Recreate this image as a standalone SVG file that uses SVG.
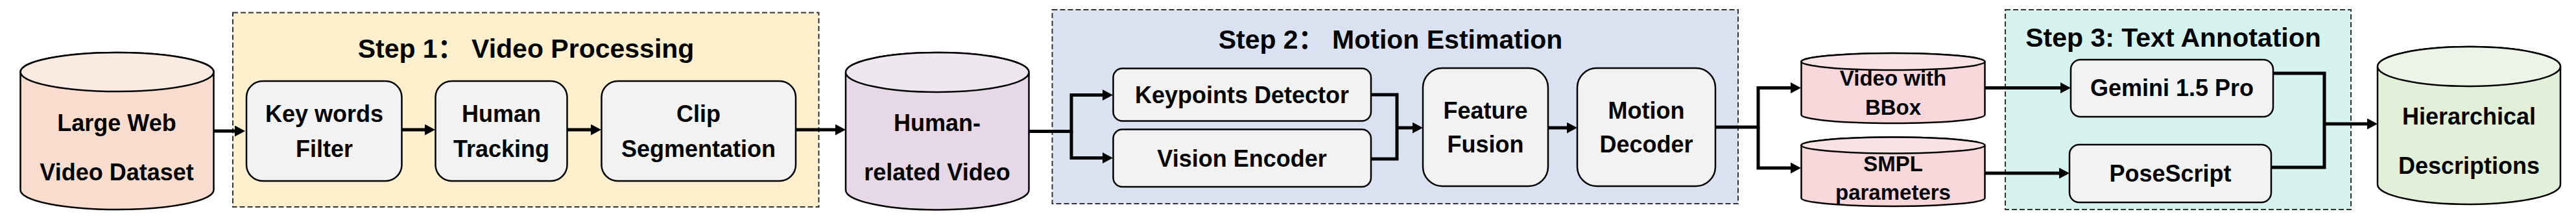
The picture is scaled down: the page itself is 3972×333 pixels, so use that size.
<svg xmlns="http://www.w3.org/2000/svg" width="3972" height="333" viewBox="0 0 3972 333">
<style>
text{font-family:"Liberation Sans",Arial,"Noto Sans CJK SC",sans-serif;font-weight:bold;fill:#000;text-anchor:middle}
.t{font-size:36px}
.ts{font-size:33px}
.title{font-size:41px}
.step{stroke:#333;stroke-width:2;stroke-dasharray:8 4}
.box{fill:#F2F2F2;stroke:#000;stroke-width:2.5}
.cyl{stroke:#000;stroke-width:2.5}
.conn{fill:none;stroke:#000;stroke-width:5;stroke-linejoin:miter}
.arr{marker-end:url(#ah)}
</style>
<defs>
<marker id="ah" markerUnits="userSpaceOnUse" viewBox="0 0 16 17" refX="2" refY="8.5" markerWidth="16" markerHeight="17" orient="auto">
<path d="M0,0 L16,8.5 L0,17 z" fill="#000"/>
</marker>
</defs>
<rect width="3972" height="333" fill="#fff"/>
<g id="step1">
<rect class="step" x="359" y="19.5" width="903.5" height="299.5" fill="#FEF0CD"/>
<text class="title" x="811" y="89">Step 1： Video Processing</text>
</g>
<g id="step2">
<rect class="step" x="1622.5" y="15" width="1057.5" height="299" fill="#DAE2F2"/>
<text class="title" x="2144" y="75">Step 2： Motion Estimation</text>
</g>
<g id="step3">
<rect class="step" x="3092" y="15" width="533" height="308" fill="#D6F2EF"/>
<text class="title" x="3351" y="72">Step 3: Text Annotation</text>
</g>
<g id="connectors">
<path class="conn arr" d="M329.5,202 H364"/>
<path class="conn arr" d="M619.5,200 H657"/>
<path class="conn arr" d="M874.5,200 H913"/>
<path class="conn arr" d="M1227,200 H1290"/>
<path class="conn arr" d="M1586.5,202.5 H1652 V146.5 H1702"/>
<path class="conn arr" d="M1652,202.5 V243.5 H1702"/>
<path class="conn" d="M2114,146 H2154 V245 H2114"/>
<path class="conn arr" d="M2154,197 H2180"/>
<path class="conn arr" d="M2387,197 H2418"/>
<path class="conn arr" d="M2645,196 H2711 V135.5 H2763"/>
<path class="conn arr" d="M2711,196 V259 H2763"/>
<path class="conn arr" d="M3060.5,135.5 H3179"/>
<path class="conn arr" d="M3060.5,267 H3177"/>
<path class="conn" d="M3505,113 H3584 V258 H3502"/>
<path class="conn arr" d="M3584,191 H3652"/>
</g>
<g id="large-web">
<path class="cyl" fill="#F8DDCE" d="M31.5,111 V293 A149,30 0 0 0 329.5,293 V111 A149,30 0 0 0 31.5,111 Z"/>
<ellipse class="cyl" fill="#FAEAE1" cx="180.5" cy="111" rx="149" ry="30"/>
<text class="t" x="180" y="202">Large Web</text>
<text class="t" x="180" y="278">Video Dataset</text>
</g>
<g id="keywords">
<rect class="box" x="380" y="125" width="239.5" height="154" rx="25"/>
<text class="t" x="500" y="188">Key words</text>
<text class="t" x="500" y="242">Filter</text>
</g>
<g id="tracking">
<rect class="box" x="671.5" y="125" width="203" height="154" rx="25"/>
<text class="t" x="773" y="188">Human</text>
<text class="t" x="773" y="242">Tracking</text>
</g>
<g id="clip">
<rect class="box" x="927.5" y="125" width="299.5" height="154" rx="25"/>
<text class="t" x="1077" y="188">Clip</text>
<text class="t" x="1077" y="242">Segmentation</text>
</g>
<g id="human-video">
<path class="cyl" fill="#E6D8E7" d="M1304,111.5 V293 A141.25,30.5 0 0 0 1586.5,293 V111.5 A141.25,30.5 0 0 0 1304,111.5 Z"/>
<ellipse class="cyl" fill="#EEE7EF" cx="1445.25" cy="111.5" rx="141.25" ry="30.5"/>
<text class="t" x="1445" y="202">Human-</text>
<text class="t" x="1445" y="278">related Video</text>
</g>
<g id="keypoints">
<rect class="box" x="1716.5" y="105.5" width="397.5" height="81" rx="14"/>
<text class="t" x="1915" y="159">Keypoints Detector</text>
</g>
<g id="vision">
<rect class="box" x="1716.5" y="199.5" width="397.5" height="88.5" rx="14"/>
<text class="t" x="1915" y="257">Vision Encoder</text>
</g>
<g id="fusion">
<rect class="box" x="2194" y="105" width="193" height="182" rx="30"/>
<text class="t" x="2290.5" y="183">Feature</text>
<text class="t" x="2290.5" y="235">Fusion</text>
</g>
<g id="decoder">
<rect class="box" x="2432" y="105" width="213" height="182" rx="30"/>
<text class="t" x="2538.5" y="183">Motion</text>
<text class="t" x="2538.5" y="235">Decoder</text>
</g>
<g id="bbox">
<path class="cyl" fill="#F8D7DB" d="M2777.5,95 V177 A141.5,13 0 0 0 3060.5,177 V95 A141.5,13 0 0 0 2777.5,95 Z"/>
<ellipse class="cyl" fill="#F9E3E5" cx="2919" cy="95" rx="141.5" ry="13"/>
<text class="ts" x="2919" y="132">Video with</text>
<text class="ts" x="2919" y="177">BBox</text>
</g>
<g id="smpl">
<path class="cyl" fill="#F8D7DB" d="M2777.5,224 V305.5 A141.5,12.5 0 0 0 3060.5,305.5 V224 A141.5,12.5 0 0 0 2777.5,224 Z"/>
<ellipse class="cyl" fill="#F9E3E5" cx="2919" cy="224" rx="141.5" ry="12.5"/>
<text class="ts" x="2919" y="264">SMPL</text>
<text class="ts" x="2919" y="308">parameters</text>
</g>
<g id="gemini">
<rect class="box" x="3193" y="92" width="312" height="88" rx="15"/>
<text class="t" x="3349" y="148">Gemini 1.5 Pro</text>
</g>
<g id="posescript">
<rect class="box" x="3191" y="223" width="311" height="89" rx="15"/>
<text class="t" x="3346.5" y="280">PoseScript</text>
</g>
<g id="hierarchical">
<path class="cyl" fill="#E2EFD9" d="M3666,102.5 V284.5 A141,30.5 0 0 0 3948,284.5 V102.5 A141,30.5 0 0 0 3666,102.5 Z"/>
<ellipse class="cyl" fill="#ECF4E7" cx="3807" cy="102.5" rx="141" ry="30.5"/>
<text class="t" x="3807" y="192">Hierarchical</text>
<text class="t" x="3807" y="268">Descriptions</text>
</g>
</svg>
